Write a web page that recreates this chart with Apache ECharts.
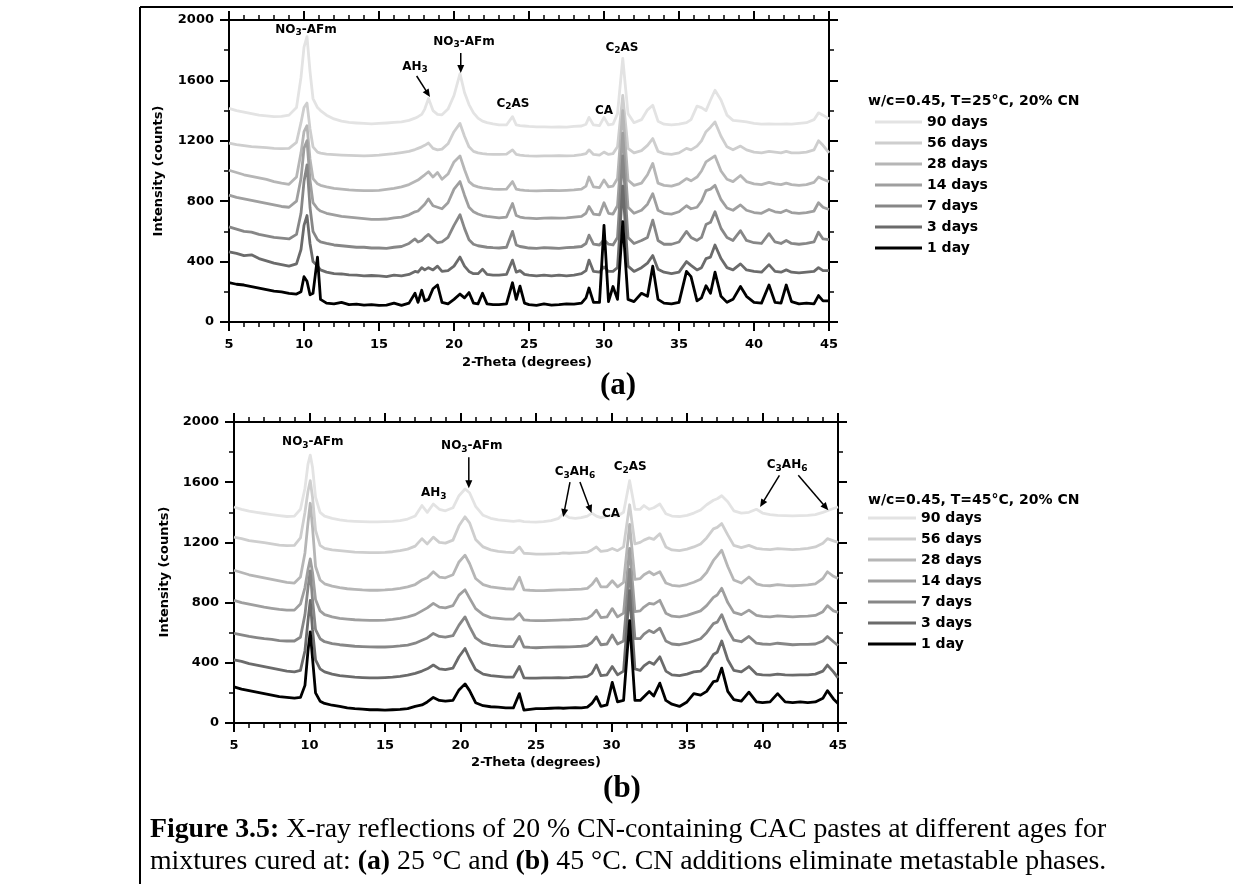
<!DOCTYPE html>
<html>
<head>
<meta charset="utf-8">
<title>XRD patterns of 20 % CN CAC pastes</title>
<script src="https://cdn.jsdelivr.net/npm/echarts@6/dist/echarts.min.js"></script>
<style>
html, body { margin: 0; padding: 0; background: #fff; }
#chart { width: 1233px; height: 884px; }
</style>
</head>
<body>
<div id="chart"></div>
<script>
// curing ages, listed from the oldest (top trace) to the youngest (bottom trace)
const ages = ['90 days', '56 days', '28 days', '14 days', '7 days', '3 days', '1 day'];
const ageColors = ['#e3e3e3', '#cecece', '#b6b6b6', '#9f9f9f', '#878787', '#6b6b6b', '#000000'];

const xTicks = [5, 10, 15, 20, 25, 30, 35, 40, 45];
const yTicks = [0, 400, 800, 1200, 1600, 2000];

// ---- panel (a): cured at 25 °C ----
const twoTheta25 = [5, 5.5, 6, 6.5, 7, 7.5, 8, 8.5, 9, 9.5,
  9.8, 10.0, 10.2, 10.4, 10.6, 10.9, 11.1, 11.5, 12, 12.5,
  13, 13.5, 14, 14.5, 15, 15.5, 16, 16.5, 17, 17.4,
  17.6, 17.85, 18.05, 18.3, 18.6, 18.9, 19.2, 19.6, 20.0, 20.4,
  20.7, 21.0, 21.3, 21.6, 21.9, 22.2, 22.6, 23.0, 23.5, 23.9,
  24.15, 24.4, 24.7, 25, 25.5, 26, 26.5, 27, 27.5, 28,
  28.5, 28.8, 29.0, 29.3, 29.7, 30.0, 30.3, 30.6, 30.9, 31.25,
  31.6, 32.0, 32.5, 32.9, 33.25, 33.6, 34.0, 34.5, 35.0, 35.5,
  35.8, 36.2, 36.5, 36.8, 37.1, 37.4, 37.8, 38.2, 38.6, 39.1,
  39.5, 40.0, 40.5, 41.0, 41.4, 41.8, 42.15, 42.5, 43.0, 43.5,
  44.0, 44.3, 44.6, 45];

const counts25d90 = [1415, 1400, 1390, 1380, 1370, 1365, 1360, 1362, 1370, 1420,
  1620, 1820, 1890, 1660, 1480, 1420, 1400, 1370, 1345, 1330,
  1322, 1318, 1315, 1312, 1315, 1318, 1322, 1325, 1335, 1350,
  1360, 1375, 1410, 1480, 1400, 1375, 1372, 1410, 1500, 1645,
  1520, 1440, 1385, 1350, 1330, 1320, 1312, 1305, 1305, 1360,
  1305, 1300, 1298, 1295, 1292, 1292, 1290, 1292, 1290, 1295,
  1298, 1310, 1355, 1305, 1300, 1355, 1305, 1310, 1380, 1745,
  1380, 1320, 1340, 1405, 1435, 1330, 1310, 1305, 1310, 1320,
  1340, 1430, 1420, 1400, 1470, 1535, 1470, 1370, 1335, 1330,
  1325, 1315, 1310, 1312, 1310, 1310, 1312, 1310, 1315, 1320,
  1340, 1385, 1370, 1345];
const counts25d56 = [1185, 1175, 1168, 1162, 1158, 1155, 1150, 1148, 1150, 1190,
  1320, 1420, 1450, 1280, 1160, 1125, 1118, 1112, 1108, 1105,
  1103, 1102, 1100, 1102, 1105, 1110, 1115, 1122, 1130, 1142,
  1150, 1160, 1170, 1185, 1150, 1140, 1145, 1180, 1260, 1315,
  1230, 1160, 1130, 1120, 1115, 1112, 1110, 1110, 1112, 1140,
  1110, 1105, 1102, 1100, 1098, 1100, 1100, 1102, 1100, 1102,
  1108, 1115, 1140, 1110, 1105, 1125, 1110, 1115, 1160, 1500,
  1150, 1120, 1135, 1170, 1215, 1130, 1115, 1110, 1120, 1150,
  1140, 1165, 1200, 1260, 1290, 1325, 1230, 1160, 1140, 1165,
  1140, 1125, 1120, 1130, 1125, 1120, 1130, 1120, 1120, 1125,
  1140, 1200, 1170, 1120];
const counts25d28 = [1005, 990, 975, 965, 955, 945, 930, 920, 912, 960,
  1120, 1260, 1300, 1080, 950, 915, 905, 895, 885, 880,
  875, 872, 870, 870, 872, 878, 885, 895, 910, 930,
  940, 960, 975, 995, 960, 990, 945, 980, 1060, 1100,
  1010, 930, 905, 895, 888, 885, 880, 878, 880, 930,
  880, 875, 872, 870, 868, 870, 872, 870, 872, 875,
  880, 900, 960, 895, 890, 940, 895, 900, 950, 1400,
  940, 905, 920, 975, 1050, 920, 905, 900, 915, 950,
  935, 960, 1000, 1060, 1080, 1100, 1000, 945, 930, 970,
  930, 915, 910, 925, 915, 910, 920, 910, 905, 910,
  925, 960, 945, 930];
const counts25d14 = [840, 825, 815, 805, 795, 785, 775, 765, 760, 800,
  950, 1150, 1200, 940, 790, 750, 735, 720, 710, 700,
  695, 690, 685, 680, 680, 682, 690, 695, 710, 730,
  735, 760, 780, 815, 770, 760, 750, 790, 880, 930,
  840, 760, 730, 715, 705, 700, 695, 690, 695, 785,
  705, 695, 690, 688, 685, 688, 690, 688, 690, 695,
  700, 720, 765, 715, 710, 790, 720, 715, 770, 1250,
  760, 720, 740, 780, 850, 740, 720, 715, 730, 770,
  750, 760, 800, 870, 880, 905, 810, 755, 740, 775,
  740, 725, 720, 745, 730, 725, 740, 725, 720, 725,
  735, 790, 760, 745];
const counts25d7 = [630, 615, 600, 595, 580, 570, 560, 555, 550, 580,
  720, 930, 1040, 760, 600, 545, 530, 520, 510, 505,
  500, 495, 495, 490, 490, 488, 495, 500, 520, 550,
  530, 540, 560, 580, 550, 525, 530, 560, 640, 710,
  620, 545, 515, 505, 500, 495, 492, 490, 495, 600,
  510, 500, 495, 490, 488, 492, 490, 488, 492, 495,
  500, 520, 575, 515, 510, 545, 515, 510, 560, 1100,
  560, 520, 540, 560, 675, 540, 515, 515, 530, 600,
  560, 540, 560, 645, 660, 730, 620, 560, 540, 605,
  540, 525, 520, 585, 530, 520, 540, 520, 515, 520,
  530, 595, 550, 545];
const counts25d3 = [465, 455, 440, 445, 420, 405, 390, 380, 370, 385,
  480, 640, 705, 520, 400, 370, 345, 330, 320, 318,
  312, 310, 305, 308, 305, 300, 310, 305, 315, 335,
  330, 360, 345, 360, 345, 370, 335, 340, 370, 430,
  370, 335, 320, 320, 350, 315, 310, 310, 315, 410,
  330, 340, 315, 310, 305, 310, 305, 310, 305, 310,
  320, 340, 410, 335, 330, 365, 335, 335, 360, 900,
  370, 335, 360, 390, 440, 350, 330, 320, 330, 400,
  375, 345, 360, 420, 430, 510, 420, 360, 345, 385,
  345, 335, 330, 380, 335, 330, 345, 330, 325, 330,
  335, 360, 340, 340];
const counts25d1 = [260, 250, 245, 235, 225, 215, 205, 200, 190, 185,
  200, 300, 270, 180, 190, 430, 150, 125, 120, 130,
  115, 118, 112, 115, 110, 112, 125, 110, 125, 190,
  130, 210, 140, 150, 220, 245, 130, 120, 150, 185,
  160, 195, 125, 120, 190, 120, 115, 115, 120, 260,
  150, 238, 125, 115, 110, 120, 112, 115, 120, 118,
  125, 160, 225, 130, 130, 640, 135, 235, 150, 665,
  150, 135, 190, 170, 370, 150, 125, 120, 130, 335,
  300, 140, 160, 240, 190, 330, 170, 130, 150, 235,
  170, 130, 125, 245, 130, 125, 245, 135, 120, 125,
  120, 175, 140, 140];

// ---- panel (b): cured at 45 °C ----
const twoTheta45 = [5, 5.5, 6, 6.5, 7, 7.5, 8, 8.5, 9, 9.4,
  9.7, 9.9, 10.05, 10.2, 10.4, 10.7, 11, 11.5, 12, 12.5,
  13, 13.5, 14, 14.5, 15, 15.5, 16, 16.5, 17, 17.45,
  17.8, 18.2, 18.6, 19, 19.5, 19.9, 20.3, 20.6, 21, 21.5,
  22, 22.5, 23, 23.5, 23.9, 24.2, 24.6, 25, 25.5, 26,
  26.5, 26.8, 27.2, 27.6, 28, 28.4, 28.7, 29.0, 29.3, 29.7,
  30.05, 30.4, 30.8, 31.2, 31.55, 31.9, 32.15, 32.5, 32.8, 33.2,
  33.6, 34.0, 34.5, 35.0, 35.45, 35.9, 36.3, 36.75, 37.0, 37.3,
  37.7, 38.1, 38.6, 39.1, 39.6, 40.0, 40.5, 41.0, 41.5, 42.0,
  42.5, 43.0, 43.5, 44.0, 44.3, 44.7, 45];

const counts45d90 = [1435, 1420, 1408, 1400, 1392, 1385, 1378, 1372, 1375, 1420,
  1560, 1720, 1780, 1700, 1500, 1400, 1375, 1360, 1350, 1343,
  1340, 1338, 1336, 1336, 1338, 1340, 1345, 1355, 1375, 1445,
  1400, 1455, 1420, 1410, 1430, 1510, 1555, 1530, 1440, 1380,
  1360, 1350, 1345, 1340, 1345, 1338, 1336, 1335, 1338, 1345,
  1360, 1390, 1365, 1360, 1365, 1375, 1395, 1375, 1365, 1375,
  1380, 1375, 1400, 1610, 1420, 1420, 1445, 1420, 1430, 1455,
  1390, 1375, 1372, 1380, 1395, 1415, 1450, 1480, 1490, 1510,
  1470, 1410, 1395, 1400, 1420, 1395, 1385, 1380, 1378, 1376,
  1378, 1380, 1385, 1400, 1410, 1425, 1435];
const counts45d56 = [1235, 1225, 1212, 1205, 1198, 1190, 1182, 1178, 1180, 1230,
  1400, 1540, 1610, 1500, 1280, 1180, 1160, 1150, 1145, 1140,
  1136, 1134, 1132, 1132, 1134, 1138, 1145, 1155, 1175, 1225,
  1190, 1235, 1200, 1195, 1215, 1310, 1370, 1330, 1220, 1170,
  1150, 1140, 1135, 1132, 1170, 1128, 1125, 1122, 1122, 1124,
  1125, 1130, 1128, 1130, 1132, 1135, 1150, 1170, 1140, 1145,
  1160, 1145, 1170, 1450, 1190, 1200, 1215, 1230, 1220, 1258,
  1170, 1150, 1145, 1155, 1170, 1190, 1230, 1290, 1300, 1325,
  1250, 1180, 1165, 1180, 1160, 1155, 1152, 1158, 1155, 1152,
  1155, 1160, 1170, 1195, 1225, 1210, 1200];
const counts45d28 = [1015, 1000, 985, 975, 965, 955, 945, 935, 930, 970,
  1130, 1330, 1460, 1300, 1040, 950, 925, 910, 900, 892,
  888, 884, 882, 882, 884, 888, 895, 905, 920, 950,
  965, 1005, 970, 965, 985, 1070, 1115, 1060, 960, 920,
  905, 898, 892, 890, 968, 885, 882, 880, 880, 882,
  884, 885, 886, 888, 890, 895, 920, 960, 905, 905,
  945, 905, 935, 1320, 955, 960, 985, 1005, 985, 1005,
  930, 915, 910, 920, 935, 955, 1000, 1080, 1110, 1148,
  1040, 950, 930, 970, 925, 915, 912, 920, 915, 912,
  915, 918, 925, 960, 1005, 975, 960];
const counts45d14 = [815, 800, 790, 780, 770, 762, 755, 750, 750, 790,
  900, 1020, 1090, 1000, 820, 745, 720, 705, 695, 690,
  686, 684, 682, 682, 684, 688, 695, 705, 720, 745,
  765, 795, 770, 765, 780, 850, 885, 830, 760, 720,
  700, 695, 690, 690, 728, 685, 682, 680, 680, 682,
  684, 685, 686, 688, 690, 695, 715, 750, 700, 705,
  760, 705, 730, 1160, 740, 745, 770, 795, 790, 815,
  730, 710, 705, 715, 730, 745, 780, 835, 850, 895,
  800, 735, 720, 750, 715, 708, 705, 712, 708, 705,
  708, 710, 715, 740, 780, 745, 735];
const counts45d7 = [595, 585, 575, 568, 560, 555, 548, 545, 545, 570,
  720, 900, 1010, 820, 620, 560, 540, 528, 520, 515,
  510, 508, 506, 505, 505, 508, 512, 518, 530, 550,
  565, 595, 575, 570, 580, 650, 705, 640, 565, 530,
  518, 512, 508, 508, 575, 505, 502, 500, 502, 504,
  505, 505, 506, 508, 510, 515, 535, 572, 520, 525,
  585, 525, 545, 1020, 560, 560, 590, 615, 600, 630,
  545, 525, 520, 530, 545, 560, 600, 660, 670, 720,
  620, 550, 540, 575, 530, 525, 522, 530, 525, 520,
  522, 522, 525, 545, 575, 540, 515];
const counts45d3 = [420, 410, 395, 385, 375, 365, 355, 345, 340, 350,
  480, 680, 815, 620, 420, 360, 340, 325, 315, 310,
  305, 302, 300, 300, 302, 305, 310, 318, 330, 345,
  360, 385, 360, 355, 365, 440, 495, 430, 355, 325,
  315, 310, 305, 305, 375, 300, 298, 298, 300, 300,
  302, 300, 302, 305, 305, 310, 330, 385, 315, 320,
  375, 320, 345, 880, 360, 350, 380, 405, 390, 440,
  345, 320, 315, 325, 340, 345, 380, 455, 470, 545,
  420, 350, 340, 375, 325, 320, 318, 325, 320, 318,
  320, 320, 325, 345, 385, 340, 300];
const counts45d1 = [240, 225, 215, 205, 195, 185, 175, 170, 165, 170,
  250, 480, 605, 430, 200, 145, 130, 118, 110, 100,
  95, 92, 88, 88, 85, 88, 90, 95, 110, 120,
  140, 170, 150, 145, 150, 220, 260, 215, 135, 115,
  108, 105, 100, 100, 195, 85, 90, 95, 95, 98,
  100, 98, 100, 102, 100, 105, 130, 175, 110, 120,
  270, 140, 150, 680, 150, 150, 175, 210, 180, 265,
  150, 125, 110, 140, 195, 185, 210, 275, 280, 365,
  210, 155, 145, 205, 140, 135, 140, 195, 140, 135,
  140, 135, 140, 165, 215, 160, 130];

// phase labels (2θ, counts) and arrows (from, to)
const phaseLabels25 = [
  ['NO{s|3}-AFm', 10.13, 1934], ['AH{s|3}', 17.4, 1689], ['NO{s|3}-AFm', 20.67, 1854],
  ['C{s|2}AS', 23.93, 1444], ['CA', 30.0, 1397], ['C{s|2}AS', 31.2, 1815]
];
const phaseArrows25 = [[17.51, 1629, 18.4, 1490], [20.45, 1781, 20.45, 1649]];
const phaseLabels45 = [
  ['NO{s|3}-AFm', 10.22, 1865], ['AH{s|3}', 18.23, 1526], ['NO{s|3}-AFm', 20.75, 1839],
  ['C{s|3}AH{s|6}', 27.58, 1666], ['C{s|2}AS', 31.24, 1699], ['CA', 29.97, 1387],
  ['C{s|3}AH{s|6}', 41.63, 1712]
];
const phaseArrows45 = [[20.55, 1766, 20.55, 1560], [27.25, 1601, 26.8, 1369], [27.91, 1601, 28.68, 1395],
  [41.12, 1646, 39.84, 1435], [42.37, 1646, 44.36, 1413]];

const panel25 = [counts25d90, counts25d56, counts25d28, counts25d14, counts25d7, counts25d3, counts25d1];
const panel45 = [counts45d90, counts45d56, counts45d28, counts45d14, counts45d7, counts45d3, counts45d1];

const SANS = 'DejaVu Sans';
const SERIF = 'Liberation Serif';
const INK = '#000';

const chart = echarts.init(document.getElementById('chart'), null, { renderer: 'canvas' });

function xAxisFor(grid, pos) {
  return {
    type: 'value', gridIndex: grid, position: pos,
    min: xTicks[0], max: xTicks[xTicks.length - 1], interval: xTicks[1] - xTicks[0],
    axisLine: { show: true, onZero: false, lineStyle: { color: INK, width: 2 } },
    axisTick: { show: true, inside: false, length: 9, lineStyle: { color: INK, width: 2 } },
    minorTick: { show: true, splitNumber: 5, length: 5, lineStyle: { color: INK, width: 1.5 } },
    axisLabel: { show: pos === 'bottom', margin: 16, color: INK, fontFamily: SANS, fontWeight: 'bold', fontSize: 13,
      formatter: v => String(v) },
    splitLine: { show: false }, minorSplitLine: { show: false }
  };
}
function yAxisFor(grid, pos) {
  return {
    type: 'value', gridIndex: grid, position: pos,
    min: yTicks[0], max: yTicks[yTicks.length - 1], interval: yTicks[1] - yTicks[0],
    axisLine: { show: true, onZero: false, lineStyle: { color: INK, width: 2 } },
    axisTick: { show: true, inside: false, length: 9, lineStyle: { color: INK, width: 2 } },
    minorTick: { show: true, splitNumber: 2, length: 5, lineStyle: { color: INK, width: 1.5 } },
    axisLabel: { show: pos === 'left', margin: 15, color: INK, fontFamily: SANS, fontWeight: 'bold', fontSize: 13,
      formatter: v => String(v) },
    splitLine: { show: false }, minorSplitLine: { show: false }
  };
}

function patternSeries(xs, ys, k, axis) {
  return {
    type: 'line', name: ages[k], xAxisIndex: axis, yAxisIndex: axis,
    data: xs.map((x, i) => [x, ys[i]]),
    symbol: 'none', showSymbol: false, color: ageColors[k],
    lineStyle: { width: 2.8, color: ageColors[k], join: 'round' },
    emphasis: { disabled: true }, silent: true, animation: false
  };
}

function legendFor(left, top, width) {
  return {
    orient: 'vertical', left: left, top: top, padding: 0,
    itemWidth: width, itemHeight: 3, itemGap: 5, icon: 'rect',
    selectedMode: false, data: ages,
    textStyle: { color: INK, fontFamily: SANS, fontWeight: 'bold', fontSize: 14, lineHeight: 16 }
  };
}

const series = [];
panel25.forEach((ys, k) => series.push(patternSeries(twoTheta25, ys, k, 0)));
panel45.forEach((ys, k) => series.push(patternSeries(twoTheta45, ys, k, 2)));

chart.setOption({
  animation: false,
  backgroundColor: '#fff',
  grid: [
    { left: 229, top: 20, width: 600, height: 302 },
    { left: 234, top: 422, width: 604, height: 301 }
  ],
  xAxis: [xAxisFor(0, 'bottom'), xAxisFor(0, 'top'), xAxisFor(1, 'bottom'), xAxisFor(1, 'top')],
  yAxis: [yAxisFor(0, 'left'), yAxisFor(0, 'right'), yAxisFor(1, 'left'), yAxisFor(1, 'right')],
  legend: [legendFor(875, 114, 47), legendFor(868, 510, 48)],
  series: series
});

// ---- annotations, axis titles, panel letters and caption ----
const subStyle = { fontSize: 9, fontFamily: SANS, fontWeight: 'bold', fill: INK, padding: [6, 0, 0, 0] };

function label(text, x, y, opts) {
  return Object.assign({
    type: 'text', x: x, y: y, silent: true, z: 100,
    style: Object.assign({
      text: text, fill: INK, fontFamily: SANS, fontWeight: 'bold', fontSize: 13,
      align: 'center', verticalAlign: 'middle', textAlign: 'center', textVerticalAlign: 'middle'
    }, opts && opts.style)
  }, opts && opts.el);
}

function arrowEls(p0, p1) {
  const dx = p1[0] - p0[0], dy = p1[1] - p0[1];
  const len = Math.hypot(dx, dy), ux = dx / len, uy = dy / len;
  const hl = 8, hw = 3.5;
  const bx = p1[0] - ux * hl, by = p1[1] - uy * hl;
  return [
    { type: 'line', silent: true, z: 100, shape: { x1: p0[0], y1: p0[1], x2: bx + ux * 2, y2: by + uy * 2 },
      style: { stroke: INK, lineWidth: 1.5 } },
    { type: 'polygon', silent: true, z: 100,
      shape: { points: [[p1[0], p1[1]], [bx - uy * hw, by + ux * hw], [bx + uy * hw, by - ux * hw]] },
      style: { fill: INK } }
  ];
}

function phaseEls(labels, arrows, axis) {
  const els = [];
  labels.forEach(([t, x, y]) => {
    const p = chart.convertToPixel({ xAxisIndex: axis, yAxisIndex: axis }, [x, y]);
    els.push(label(t, p[0], p[1], { style: { fontSize: 12, rich: { s: subStyle } } }));
  });
  arrows.forEach(([x0, y0, x1, y1]) => {
    const a = chart.convertToPixel({ xAxisIndex: axis, yAxisIndex: axis }, [x0, y0]);
    const b = chart.convertToPixel({ xAxisIndex: axis, yAxisIndex: axis }, [x1, y1]);
    els.push(...arrowEls(a, b));
  });
  return els;
}

const captionRich = {
  b: { fontFamily: SERIF, fontWeight: 'bold', fontSize: 27.8, fill: INK },
  r: { fontFamily: SERIF, fontWeight: 'normal', fontSize: 27.8, fill: INK }
};

const graphic = [
  // page frame
  { type: 'line', silent: true, shape: { x1: 140, y1: 7, x2: 1233, y2: 7 }, style: { stroke: INK, lineWidth: 2 } },
  { type: 'line', silent: true, shape: { x1: 140, y1: 7, x2: 140, y2: 884 }, style: { stroke: INK, lineWidth: 2 } },
  // axis titles
  label('Intensity (counts)', 159, 171, { el: { rotation: Math.PI / 2 } }),
  label('2-Theta (degrees)', 527, 363),
  label('Intensity (counts)', 165, 572, { el: { rotation: Math.PI / 2 } }),
  label('2-Theta (degrees)', 536, 763),
  // legend titles
  label('w/c=0.45, T=25°C, 20% CN', 868, 101, { style: { align: 'left', textAlign: 'left', fontSize: 14 } }),
  label('w/c=0.45, T=45°C, 20% CN', 868, 500, { style: { align: 'left', textAlign: 'left', fontSize: 14 } }),
  // panel letters
  label('(a)', 618, 386, { style: { fontFamily: SERIF, fontSize: 31 } }),
  label('(b)', 622, 789, { style: { fontFamily: SERIF, fontSize: 31 } }),
  // caption
  label('{b|Figure 3.5:}{r| X-ray reflections of 20 % CN-containing CAC pastes at different ages for}', 150, 830,
    { style: { align: 'left', textAlign: 'left', fontFamily: SERIF, fontSize: 27.8, rich: captionRich } }),
  label('{r|mixtures cured at: }{b|(a)}{r| 25 °C and }{b|(b)}{r| 45 °C. CN additions eliminate metastable phases.}', 150, 862,
    { style: { align: 'left', textAlign: 'left', fontFamily: SERIF, fontSize: 27.8, rich: captionRich } })
].concat(phaseEls(phaseLabels25, phaseArrows25, 0), phaseEls(phaseLabels45, phaseArrows45, 2));

chart.setOption({ graphic: graphic });
</script>
</body>
</html>
